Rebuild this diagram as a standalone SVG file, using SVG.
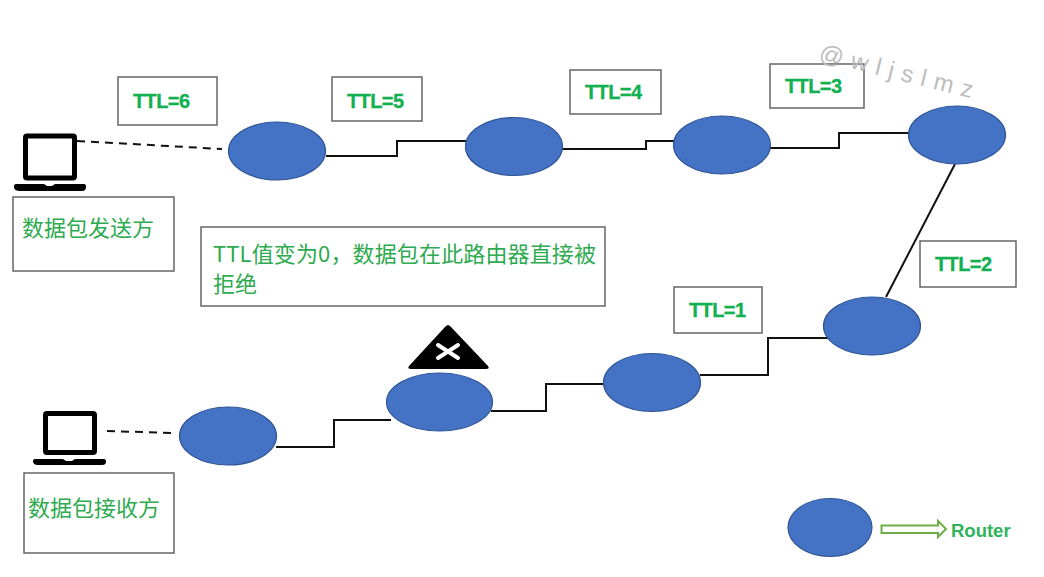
<svg xmlns="http://www.w3.org/2000/svg" width="1044" height="577" viewBox="0 0 1044 577">
<style>
.r{fill:#4472c4;stroke:#2f5597;stroke-width:1.2}
.b{fill:#fff;stroke:#666;stroke-width:1.5}
.t{font-family:"Liberation Sans",sans-serif;font-weight:bold;font-size:20px;letter-spacing:-0.600px;fill:#12b050;stroke:#12b050;stroke-width:0.300px}
.c{font-family:"Noto Sans CJK SC","Liberation Sans",sans-serif;font-size:22px;fill:#2eaa50}
.l{fill:none;stroke:#111;stroke-width:2}
.d{fill:none;stroke:#111;stroke-width:2;stroke-dasharray:8 6}
.k{fill:#000}
.s{fill:#fff;stroke:#000;stroke-width:5}
</style>
<g id="connectors">
<path class="d" d="M77 141L222 149"/>
<path class="l" d="M326 156H397V141H467"/>
<path class="l" d="M562 149H646V141H675"/>
<path class="l" d="M770 148H839V133H909"/>
<path class="l" d="M955 164L886 297"/>
<path class="l" d="M835 338H768V375H700"/>
<path class="l" d="M604 384H546V411H491"/>
<path class="l" d="M391 420H334V447H276"/>
<path class="d" d="M107 431L172 433"/>
</g>
<g id="router-1"><ellipse class="r" cx="277" cy="151" rx="48.500" ry="29"/></g>
<g id="router-2"><ellipse class="r" cx="514" cy="146.500" rx="48.500" ry="29"/></g>
<g id="router-3"><ellipse class="r" cx="722" cy="145" rx="48.500" ry="29"/></g>
<g id="router-4"><ellipse class="r" cx="957" cy="135" rx="48.500" ry="29"/></g>
<g id="router-5"><ellipse class="r" cx="872" cy="326" rx="48.500" ry="29"/></g>
<g id="router-6"><ellipse class="r" cx="652" cy="382.500" rx="48.500" ry="29"/></g>
<g id="router-7"><ellipse class="r" cx="439.500" cy="402" rx="53" ry="29"/></g>
<g id="router-8"><ellipse class="r" cx="228" cy="436" rx="48.500" ry="29"/></g>
<g id="legend-router"><ellipse class="r" cx="830" cy="527.500" rx="42" ry="29"/>
<path d="M881.500 525.500H938V521L946 529L938 537V533H881.500Z" fill="#fff" stroke="#70ad47" stroke-width="2"/>
<text x="951" y="537" font-family="Liberation Sans,sans-serif" font-weight="bold" font-size="18.500" fill="#2eb45a">Router</text></g>
<g id="ttl-6"><rect class="b" x="118" y="77" width="99" height="48"/><text class="t" x="133" y="108">TTL=6</text></g>
<g id="ttl-5"><rect class="b" x="332" y="77" width="90" height="44"/><text class="t" x="347" y="108">TTL=5</text></g>
<g id="ttl-4"><rect class="b" x="570" y="70" width="91" height="44"/><text class="t" x="585" y="99">TTL=4</text></g>
<g id="ttl-3"><rect class="b" x="770" y="64" width="94" height="44"/><text class="t" x="785" y="93">TTL=3</text></g>
<g id="ttl-2"><rect class="b" x="920" y="241" width="96" height="46"/><text class="t" x="935" y="271">TTL=2</text></g>
<g id="ttl-1"><rect class="b" x="674" y="287" width="88" height="46"/><text class="t" x="689" y="317">TTL=1</text></g>
<g id="sender"><rect class="s" x="25.500" y="136" width="49" height="42" rx="1.500"/>
<path class="k" d="M16 184H44L47 186H52L55 184H84Q86 184 86 186V187Q86 191 82 191H20Q14 191 14 187V186Q14 184 16 184Z"/>
<rect class="b" x="13" y="197" width="161" height="74"/><text class="c" x="22" y="236">数据包发送方</text></g>
<g id="receiver"><rect class="s" x="45.500" y="413.500" width="49" height="39" rx="1.500"/>
<path class="k" d="M35 459H63L66 461H72L75 459H104Q106 459 106 461V462Q106 465 102 465H38Q33 465 33 461V461Q33 459 35 459Z"/>
<rect class="b" x="24" y="473" width="150" height="80"/><text class="c" x="28" y="516">数据包接收方</text></g>
<g id="note"><rect class="b" x="201" y="227" width="404" height="79"/>
<text class="c" x="213" y="262" textLength="383">TTL值变为0，数据包在此路由器直接被</text><text class="c" x="213" y="292">拒绝</text></g>
<g id="drop-sign"><path d="M448 325Q449 325 451 327L488 366Q490 369 486 369H411Q407 369 409 366L445 327Q447 325 448 325Z" fill="#000"/>
<path d="M438 345L458 358M458 345L438 358" stroke="#fff" stroke-width="4" stroke-linecap="round"/></g>
<text transform="translate(818 60) rotate(14)" font-family="Liberation Sans,sans-serif" font-size="24" letter-spacing="8" fill="#bdbdbd">@wljslmz</text>
</svg>
